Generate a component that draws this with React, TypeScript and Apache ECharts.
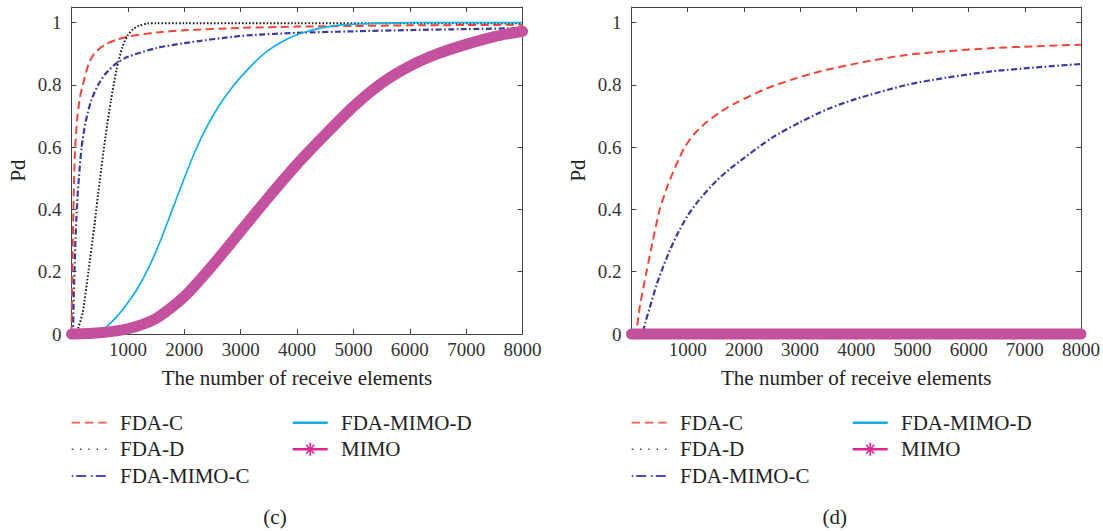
import React, { useEffect, useRef } from 'react';
import * as echarts from 'echarts';

// ---------- data ----------
const seriesNames = ['FDA-C', 'FDA-D', 'FDA-MIMO-C', 'FDA-MIMO-D', 'MIMO'];
const xTickLabels = ['', '1000', '2000', '3000', '4000', '5000', '6000', '7000', '8000'];
const yTickLabels = ['0', '0.2', '0.4', '0.6', '0.8', '1'];
const xAxisTitle = 'The number of receive elements';
const yAxisTitle = 'Pd';
const panelCaptions = ['(c)', '(d)'];

// panel (c)
const cFdaCX = [0, 20, 40, 60, 100, 150, 200, 300, 400, 600, 800, 1000, 1500, 2000, 3000, 4000, 5000, 6000, 7000, 8000];
const cFdaCY = [0, 0.25, 0.45, 0.58, 0.69, 0.76, 0.8, 0.865, 0.9, 0.93, 0.945, 0.955, 0.968, 0.975, 0.983, 0.987, 0.989, 0.991, 0.992, 0.993];
const cFdaDX = [0, 80, 120, 200, 300, 400, 500, 600, 700, 800, 900, 1000, 1100, 1200, 1350, 1500, 2000, 4000, 6000, 8000];
const cFdaDY = [0, 0, 0.02, 0.07, 0.2, 0.34, 0.49, 0.63, 0.75, 0.85, 0.92, 0.96, 0.98, 0.99, 0.997, 0.998, 0.998, 0.998, 0.998, 0.998];
const cFdaMimoCX = [0, 20, 40, 70, 100, 130, 180, 250, 350, 474, 600, 800, 1000, 1500, 2000, 3000, 4000, 5000, 6000, 7000, 8000];
const cFdaMimoCY = [0, 0, 0.12, 0.3, 0.42, 0.5, 0.6, 0.68, 0.75, 0.8, 0.835, 0.87, 0.89, 0.918, 0.934, 0.957, 0.967, 0.972, 0.976, 0.979, 0.982];
const cFdaMimoDX = [0, 450, 600, 800, 1000, 1200, 1400, 1600, 1800, 2000, 2200, 2400, 2600, 2800, 3000, 3400, 3800, 4200, 4600, 5000, 6000, 7000, 8000];
const cFdaMimoDY = [0, 0, 0.02, 0.055, 0.1, 0.155, 0.225, 0.31, 0.405, 0.5, 0.59, 0.665, 0.728, 0.78, 0.825, 0.898, 0.945, 0.973, 0.988, 0.995, 1, 1, 1];
const cMimoX = [0, 500, 1000, 1500, 2000, 2500, 3000, 3500, 4000, 4500, 5000, 5500, 6000, 6500, 7000, 7500, 8000];
const cMimoY = [0, 0.004, 0.017, 0.05, 0.12, 0.22, 0.33, 0.44, 0.545, 0.64, 0.73, 0.805, 0.86, 0.9, 0.93, 0.955, 0.972];

// panel (d)
const dFdaCX = [0, 60, 150, 267, 380, 503, 650, 800, 948, 1130, 1333, 1600, 1866, 2400, 2874, 3350, 4100, 4890, 5600, 6430, 7200, 8000];
const dFdaCY = [0, 0, 0.09, 0.2, 0.3, 0.4, 0.48, 0.545, 0.6, 0.645, 0.68, 0.715, 0.743, 0.788, 0.818, 0.843, 0.872, 0.896, 0.908, 0.918, 0.924, 0.929];
const dFdaDX = [0, 2000, 4000, 6000, 8000];
const dFdaDY = [0, 0, 0, 0, 0];
const dFdaMimoCX = [0, 170, 250, 350, 450, 530, 650, 800, 1000, 1200, 1500, 1750, 2000, 2500, 3000, 3500, 4000, 4900, 5600, 6400, 7200, 8000];
const dFdaMimoCY = [0, 0, 0.04, 0.1, 0.16, 0.2, 0.255, 0.315, 0.38, 0.43, 0.49, 0.53, 0.565, 0.63, 0.68, 0.723, 0.755, 0.8, 0.823, 0.843, 0.856, 0.867];
const dFdaMimoDX = [0, 2000, 4000, 6000, 8000];
const dFdaMimoDY = [0, 0, 0, 0, 0];
const dMimoX = [0, 2000, 4000, 6000, 8000];
const dMimoY = [0, 0, 0, 0, 0];

// ---------- styles ----------
const FONT = '"Liberation Serif", "Times New Roman", serif';
const TEXT = '#222';
const AXIS = '#444';

type Sty = { color: string; width: number; dash: number[] | 'solid'; legendDash: number[] | null; legendWidth: number; legendColor: string };
const styles: Record<string, Sty> = {
  'FDA-C': { color: '#f0473a', width: 2, dash: [8, 4.5], legendDash: [8.3, 5], legendWidth: 1.8, legendColor: '#ec5a50' },
  'FDA-D': { color: '#1e1e1e', width: 2, dash: [1.6, 1.9], legendDash: [1.5, 6.8], legendWidth: 1.5, legendColor: '#444' },
  'FDA-MIMO-C': { color: '#3a3aa0', width: 2.2, dash: [6, 2.5, 1.6, 2.5], legendDash: [1.5, 3, 10, 5], legendWidth: 1.8, legendColor: '#4a4ab0' },
  'FDA-MIMO-D': { color: '#14aee2', width: 1.7, dash: 'solid', legendDash: null, legendWidth: 2.5, legendColor: '#14aee2' },
  'MIMO': { color: '#c4519e', width: 11, dash: 'solid', legendDash: null, legendWidth: 2.5, legendColor: '#e2258d' },
};

const zip = (xs: number[], ys: number[]) => xs.map((x, i) => [x, ys[i]]);

const panels = [
  [
    zip(cFdaCX, cFdaCY),
    zip(cFdaDX, cFdaDY),
    zip(cFdaMimoCX, cFdaMimoCY),
    zip(cFdaMimoDX, cFdaMimoDY),
    zip(cMimoX, cMimoY),
  ],
  [
    zip(dFdaCX, dFdaCY),
    zip(dFdaDX, dFdaDY),
    zip(dFdaMimoCX, dFdaMimoCY),
    zip(dFdaMimoDX, dFdaMimoDY),
    zip(dMimoX, dMimoY),
  ],
];

const grids = [
  { left: 71.5, top: 7, width: 451, height: 327 },
  { left: 631.5, top: 7, width: 450.5, height: 327 },
];

function buildOption() {
  const xAxis: any[] = [];
  const yAxis: any[] = [];
  const series: any[] = [];
  const graphic: any[] = [];

  grids.forEach((g, gi) => {
    const tick = { show: true, inside: true, length: 5, lineStyle: { color: AXIS, width: 1 } };
    const line = { show: true, onZero: false, lineStyle: { color: AXIS, width: 1 } };
    xAxis.push({
      type: 'value', gridIndex: gi, position: 'bottom', min: 0, max: 8000, interval: 1000,
      axisLine: line, axisTick: tick, splitLine: { show: false },
      axisLabel: {
        show: true, margin: 6, fontFamily: FONT, fontSize: 19, color: '#333',
        formatter: (v: number) => xTickLabels[Math.round(v / 1000)] ?? '',
        showMinLabel: true, showMaxLabel: true,
      },
      name: xAxisTitle, nameLocation: 'middle', nameGap: 33,
      nameTextStyle: { fontFamily: FONT, fontSize: 21, color: TEXT },
    });
    xAxis.push({
      type: 'value', gridIndex: gi, position: 'top', min: 0, max: 8000, interval: 1000,
      axisLine: line, axisTick: tick, splitLine: { show: false }, axisLabel: { show: false },
    });
    yAxis.push({
      type: 'value', gridIndex: gi, position: 'left', min: 0, max: 1.05, interval: 0.2,
      axisLine: line, axisTick: tick, splitLine: { show: false },
      axisLabel: {
        show: true, margin: 10, fontFamily: FONT, fontSize: 19, color: '#333',
        formatter: (v: number) => (v > 1.01 ? '' : yTickLabels[Math.round(v / 0.2)] ?? ''),
        showMinLabel: true, showMaxLabel: true,
      },
      name: yAxisTitle, nameLocation: 'middle', nameGap: 43,
      nameTextStyle: { fontFamily: FONT, fontSize: 21, color: TEXT },
    });
    yAxis.push({
      type: 'value', gridIndex: gi, position: 'right', min: 0, max: 1.05, interval: 0.2,
      axisLine: line, axisTick: tick, splitLine: { show: false }, axisLabel: { show: false },
    });

    seriesNames.forEach((name, si) => {
      const s = styles[name];
      series.push({
        type: 'line', name, xAxisIndex: gi * 2, yAxisIndex: gi * 2,
        data: panels[gi][si], showSymbol: false, symbol: 'none', smooth: 0.25,
        clip: name !== 'MIMO',
        lineStyle: { color: s.color, width: s.width, type: s.dash, cap: name === 'MIMO' ? 'round' : 'butt', join: 'round' },
        itemStyle: { color: s.color },
        z: 2 + si,
        silent: true,
      });
    });

    // legend drawn as graphic
    const x0 = g.left + 0.2;
    const rowsY = [422.7, 449.3, 476];
    const cols = [
      ['FDA-C', 'FDA-D', 'FDA-MIMO-C'],
      ['FDA-MIMO-D', 'MIMO'],
    ];
    cols.forEach((col, ci) => {
      const cx = x0 + ci * 221;
      col.forEach((name, ri) => {
        const s = styles[name];
        const y = rowsY[ri];
        graphic.push({
          type: 'line', silent: true,
          shape: { x1: cx, y1: y, x2: cx + 35, y2: y },
          style: { stroke: s.legendColor, lineWidth: s.legendWidth, lineDash: s.legendDash || undefined },
        });
        if (name === 'MIMO') {
          const mx = cx + 17.5;
          [[0, -6.5, 0, 6.5], [-4, -4.5, 4, 4.5], [4, -4.5, -4, 4.5]].forEach((d) => {
            graphic.push({
              type: 'line', silent: true,
              shape: { x1: mx + d[0], y1: y + d[1], x2: mx + d[2], y2: y + d[3] },
              style: { stroke: s.legendColor, lineWidth: 1.6 },
            });
          });
        }
        graphic.push({
          type: 'text', silent: true, x: cx + 48.3, y,
          style: { text: name, fontFamily: FONT, fontSize: 21, fill: TEXT, align: 'left', verticalAlign: 'middle' },
        });
      });
    });
    graphic.push({
      type: 'text', silent: true, x: g.left + g.width / 2 - 22, y: 516.7,
      style: { text: panelCaptions[gi], fontFamily: FONT, fontSize: 21, fill: TEXT, align: 'center', verticalAlign: 'middle' },
    });
  });

  return {
    animation: false,
    backgroundColor: '#ffffff',
    grid: grids.map((g) => ({ ...g, containLabel: false })),
    xAxis,
    yAxis,
    series,
    graphic,
  };
}

export default function App() {
  const ref = useRef<HTMLDivElement>(null);
  useEffect(() => {
    if (!ref.current) return;
    const chart = echarts.init(ref.current, undefined, { renderer: 'svg' });
    chart.setOption(buildOption() as any);
    return () => chart.dispose();
  }, []);
  return (
    <div
      ref={ref}
      style={{ position: 'fixed', left: 0, top: 0, width: 1103, height: 531, background: '#fff' }}
    />
  );
}
